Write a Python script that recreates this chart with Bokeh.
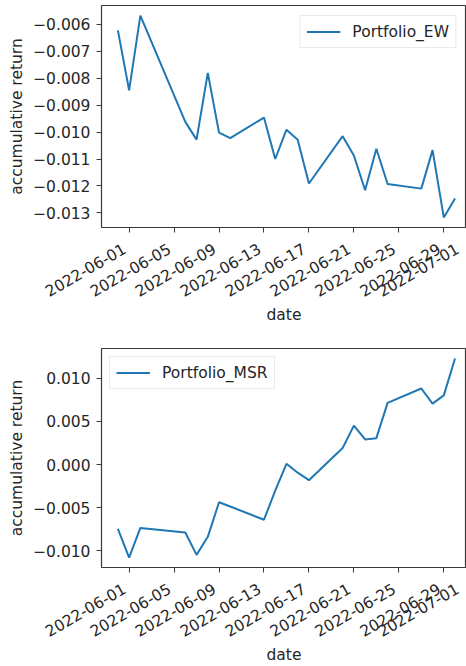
import math

import pandas as pd
from bokeh.embed import file_html
from bokeh.layouts import column
from bokeh.models import (ColumnDataSource, CustomJSTickFormatter,
                          FixedTicker, Range1d)
from bokeh.plotting import figure
from bokeh.resources import INLINE

# Trading days (Dragon Boat holiday on 2022-06-03 is skipped)
dates = ["2022-05-31", "2022-06-01", "2022-06-02", "2022-06-06", "2022-06-07",
         "2022-06-08", "2022-06-09", "2022-06-10", "2022-06-13", "2022-06-14",
         "2022-06-15", "2022-06-16", "2022-06-17", "2022-06-20", "2022-06-21",
         "2022-06-22", "2022-06-23", "2022-06-24", "2022-06-27", "2022-06-28",
         "2022-06-29", "2022-06-30"]

# Accumulative return of the equal-weight portfolio
portfolio_ew = [-0.00622, -0.00845, -0.00567, -0.00962, -0.01028,
                -0.00780, -0.01002, -0.01022, -0.00946, -0.01100,
                -0.00991, -0.01028, -0.01191, -0.01015, -0.01087,
                -0.01216, -0.01062, -0.01193, -0.01210, -0.01067,
                -0.01317, -0.01247]

# Accumulative return of the max-Sharpe-ratio portfolio
portfolio_msr = [-0.00745, -0.01077, -0.00734, -0.00787, -0.01046,
                 -0.00837, -0.00437, -0.00486, -0.00639, -0.00303,
                 0.00009, -0.00094, -0.00181, 0.00192, 0.00451,
                 0.00291, 0.00306, 0.00714, 0.00881, 0.00706,
                 0.00801, 0.01229]

date_ticks = ["2022-06-01", "2022-06-05", "2022-06-09", "2022-06-13",
              "2022-06-17", "2022-06-21", "2022-06-25", "2022-06-29",
              "2022-07-01"]
ew_ticks = [-0.006, -0.007, -0.008, -0.009, -0.010, -0.011, -0.012, -0.013]
msr_ticks = [0.010, 0.005, 0.000, -0.005, -0.010]

LINE_COLOR = "#1f77b4"
TEXT_COLOR = "#262626"
FONT = "DejaVu Sans"
FONT_SIZE = "15.5px"

x = pd.to_datetime(dates)
x_start = x[0] - pd.Timedelta(hours=35)
x_end = pd.Timestamp("2022-07-01") + pd.Timedelta(minutes=30)
tick_ms = [pd.Timestamp(d).value / 1e6 for d in date_ticks]

# ISO dates; the trailing no-break space keeps the right-aligned,
# rotated label ending just left of its tick
date_fmt = CustomJSTickFormatter(code="""
    const d = new Date(tick);
    const pad = (n) => String(n).padStart(2, '0');
    return d.getUTCFullYear() + '-' + pad(d.getUTCMonth() + 1) + '-' +
           pad(d.getUTCDate()) + '\\u00a0';
""")
num_fmt = CustomJSTickFormatter(
    code="return tick.toFixed(3).replace('-', '\\u2212');")


def padded(values, frac=0.05):
    lo, hi = min(values), max(values)
    pad = (hi - lo) * frac
    return Range1d(lo - pad, hi + pad)


def panel(values, name, yticks, legend_loc, border_top, border_bottom,
          height, legend_margin):
    src = ColumnDataSource(dict(date=x, ret=values))
    p = figure(width=466, height=height, x_axis_type="datetime",
               output_backend="svg", toolbar_location=None,
               x_range=Range1d(x_start, x_end), y_range=padded(values),
               min_border_left=101, min_border_right=0,
               min_border_top=border_top, min_border_bottom=border_bottom)
    p.line("date", "ret", source=src, line_color=LINE_COLOR,
           line_width=2, legend_label=name)

    p.grid.visible = False
    p.background_fill_color = "white"
    p.border_fill_color = "white"
    p.outline_line_color = "#3a3a3a"
    p.outline_line_width = 1.2

    for ax in (p.xaxis[0], p.yaxis[0]):
        ax.axis_line_color = None
        ax.major_tick_in = 0
        ax.major_tick_out = 5
        ax.major_tick_line_color = "#3a3a3a"
        ax.minor_tick_line_color = None
        ax.major_label_text_font = FONT
        ax.major_label_text_font_size = FONT_SIZE
        ax.major_label_text_color = TEXT_COLOR
        ax.axis_label_text_font = FONT
        ax.axis_label_text_font_size = FONT_SIZE
        ax.axis_label_text_font_style = "normal"
        ax.axis_label_text_color = TEXT_COLOR

    p.xaxis.ticker = FixedTicker(ticks=tick_ms)
    p.xaxis.formatter = date_fmt
    p.xaxis.major_label_orientation = math.pi / 6
    p.xaxis.major_label_standoff = 13
    p.xaxis.axis_label = "date"
    p.xaxis.axis_label_standoff = -6

    p.yaxis.ticker = FixedTicker(ticks=yticks)
    p.yaxis.formatter = num_fmt
    p.yaxis.major_label_standoff = 6
    p.yaxis.axis_label = "accumulative return"
    p.yaxis.axis_label_standoff = 4

    lg = p.legend[0]
    lg.location = legend_loc
    lg.margin = legend_margin
    lg.padding = 6
    lg.spacing = 0
    lg.glyph_width = 34
    lg.glyph_height = 19
    lg.label_height = 19
    lg.label_standoff = 12
    lg.label_text_font = FONT
    lg.label_text_font_size = FONT_SIZE
    lg.label_text_color = TEXT_COLOR
    lg.border_line_color = "#d6d6d6"
    lg.border_line_width = 1
    lg.background_fill_color = "white"
    lg.background_fill_alpha = 0.8
    return p


top = panel(portfolio_ew, "Portfolio_EW", ew_ticks, "top_right",
            5, 108, 335, 10)
bottom = panel(portfolio_msr, "Portfolio_MSR", msr_ticks, "top_left",
               13, 96, 331, 8)

layout = column(top, bottom, spacing=0)
open("out.html", "w").write(file_html(layout, INLINE))
